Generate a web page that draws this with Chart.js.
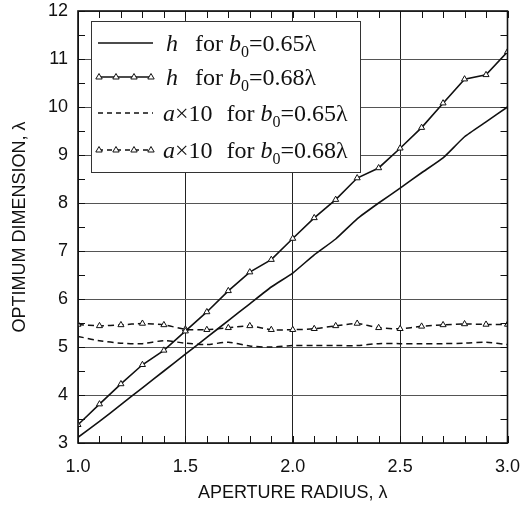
<!DOCTYPE html>
<html>
<head>
<meta charset="utf-8">
<script src="https://cdn.jsdelivr.net/npm/chart.js@4/dist/chart.umd.min.js"></script>
<style>
    html, body { margin: 0; padding: 0; background: #fff; }
    #wrap { width: 522px; height: 508px; }
</style>
</head>
<body>
<div id="wrap"><canvas id="dimChart" width="522" height="508"></canvas></div>
<script>
// aperture radius (lambda)
const radius = [1.0, 1.1, 1.2, 1.3, 1.4, 1.5, 1.6, 1.7, 1.8, 1.9, 2.0,
    2.1, 2.2, 2.3, 2.4, 2.5, 2.6, 2.7, 2.8, 2.9, 3.0];

// h for b0 = 0.65 lambda
const hB065 = [3.12, 3.45, 3.8, 4.15, 4.5, 4.85, 5.2, 5.55, 5.9, 6.25, 6.54,
    6.92, 7.25, 7.67, 8.0, 8.31, 8.63, 8.94, 9.38, 9.69, 10.0];

// h for b0 = 0.68 lambda
const hB068 = [3.38, 3.81, 4.23, 4.63, 4.93, 5.33, 5.73, 6.17, 6.56, 6.82, 7.26,
    7.69, 8.07, 8.52, 8.73, 9.14, 9.57, 10.08, 10.58, 10.67, 11.15];

// a x 10 for b0 = 0.65 lambda
const aB065 = [5.22, 5.13, 5.08, 5.07, 5.13, 5.08, 5.05, 5.1, 5.02, 5.0, 5.03,
    5.03, 5.03, 5.03, 5.07, 5.07, 5.07, 5.07, 5.08, 5.1, 5.05];

// a x 10 for b0 = 0.68 lambda
const aB068 = [5.47, 5.44, 5.46, 5.49, 5.46, 5.37, 5.36, 5.4, 5.44, 5.36, 5.36,
    5.38, 5.44, 5.49, 5.4, 5.38, 5.43, 5.46, 5.48, 5.47, 5.47];

const legendRows = [
    { sym: "h", mult: "", b0: "0.65λ", dash: [], marker: false },
    { sym: "h", mult: "", b0: "0.68λ", dash: [], marker: true },
    { sym: "a", mult: "×10", b0: "0.65λ", dash: [5, 4], marker: false },
    { sym: "a", mult: "×10", b0: "0.68λ", dash: [5, 4], marker: true }
];

function pairs(values) {
    return radius.map((x, i) => ({ x: x, y: values[i] }));
}

// frame, inward minor ticks and the boxed legend
const paperPlugin = {
    id: "paper",
    afterDraw(chart) {
        const ctx = chart.ctx;
        const area = chart.chartArea;
        const xs = chart.scales.x;
        const ys = chart.scales.y;
        ctx.save();
        ctx.strokeStyle = "#111";
        ctx.lineWidth = 1;
        for (let i = 10; i <= 30; i++) {
            const px = Math.round(xs.getPixelForValue(i / 10)) + 0.5;
            ctx.beginPath();
            ctx.moveTo(px, area.bottom);
            ctx.lineTo(px, area.bottom - 7);
            ctx.moveTo(px, area.top);
            ctx.lineTo(px, area.top + 7);
            ctx.stroke();
        }
        for (let j = 6; j <= 24; j++) {
            const py = Math.round(ys.getPixelForValue(j / 2)) + 0.5;
            ctx.beginPath();
            ctx.moveTo(area.left, py);
            ctx.lineTo(area.left + 7, py);
            ctx.moveTo(area.right, py);
            ctx.lineTo(area.right - 7, py);
            ctx.stroke();
        }
        ctx.lineWidth = 1.6;
        ctx.strokeRect(area.left, area.top, area.right - area.left, area.bottom - area.top);

        // legend box
        const bx = 91, by = 21, bw = 269, bh = 151;
        ctx.fillStyle = "#fff";
        ctx.fillRect(bx, by, bw, bh);
        ctx.lineWidth = 1;
        ctx.strokeStyle = "#333";
        ctx.strokeRect(bx + 0.5, by + 0.5, bw, bh);

        const rowY = [43, 77, 113, 150];
        legendRows.forEach((row, k) => {
            const y = rowY[k];
            ctx.strokeStyle = "#111";
            ctx.lineWidth = 1.3;
            ctx.setLineDash(row.dash);
            ctx.beginPath();
            ctx.moveTo(98, y);
            ctx.lineTo(153, y);
            ctx.stroke();
            ctx.setLineDash([]);
            if (row.marker) {
                [99, 116, 134, 151].forEach(mx => {
                    ctx.beginPath();
                    ctx.moveTo(mx, y - 3.5);
                    ctx.lineTo(mx + 3.2, y + 2);
                    ctx.lineTo(mx - 3.2, y + 2);
                    ctx.closePath();
                    ctx.fillStyle = "#fff";
                    ctx.fill();
                    ctx.lineWidth = 1;
                    ctx.stroke();
                });
            }
            // text with italics and subscript
            ctx.fillStyle = "#111";
            ctx.textBaseline = "alphabetic";
            const isH = row.sym === "h";
            let tx = isH ? 166 : 163;
            const base = y + 8;
            const parts = [
                { t: row.sym, f: "italic 24px 'Liberation Serif'", dy: 0, gap: 0 },
                { t: row.mult, f: "24px 'Liberation Serif'", dy: 0, gap: 0 },
                { t: "for", f: "24px 'Liberation Serif'", dy: 0, gap: isH ? 17 : 14 },
                { t: "b", f: "italic 24px 'Liberation Serif'", dy: 0, gap: 6 },
                { t: "0", f: "16px 'Liberation Serif'", dy: 6, gap: 0 },
                { t: "=" + row.b0, f: "24px 'Liberation Serif'", dy: 0, gap: 0 }
            ];
            parts.forEach(p => {
                tx += p.gap;
                ctx.font = p.f;
                ctx.fillText(p.t, tx, base + p.dy);
                tx += ctx.measureText(p.t).width;
            });
        });
        ctx.restore();
    }
};

window.onload = function () {

    const ctx = document.getElementById("dimChart");

    new Chart(ctx, {

        type: "line",

        data: {
            datasets: [
                {
                    label: "h for b0=0.65λ",
                    data: pairs(hB065),
                    borderColor: "#111",
                    borderWidth: 1.6,
                    pointRadius: 0,
                    tension: 0.15
                },
                {
                    label: "h for b0=0.68λ",
                    data: pairs(hB068),
                    borderColor: "#111",
                    borderWidth: 1.6,
                    pointStyle: "triangle",
                    pointRadius: 3.5,
                    pointBorderWidth: 1,
                    pointBackgroundColor: "#fff",
                    pointBorderColor: "#111",
                    tension: 0
                },
                {
                    label: "a×10 for b0=0.65λ",
                    data: pairs(aB065),
                    borderColor: "#111",
                    borderWidth: 1.5,
                    borderDash: [6, 4],
                    pointRadius: 0,
                    tension: 0.3
                },
                {
                    label: "a×10 for b0=0.68λ",
                    data: pairs(aB068),
                    borderColor: "#111",
                    borderWidth: 1.5,
                    borderDash: [6, 4],
                    pointStyle: "triangle",
                    pointRadius: 3.5,
                    pointBorderWidth: 1,
                    pointBackgroundColor: "#fff",
                    pointBorderColor: "#111",
                    tension: 0.2
                }
            ]
        },

        options: {
            responsive: false,
            animation: false,
            layout: {
                padding: { top: 11, right: 14.5, bottom: 0, left: 0 }
            },
            plugins: {
                legend: { display: false },
                tooltip: { enabled: false }
            },
            scales: {
                x: {
                    type: "linear",
                    min: 1,
                    max: 3,
                    afterFit(scale) {
                        scale.height = 65;
                        scale.paddingLeft = 0;
                        scale.paddingRight = 0;
                    },
                    ticks: {
                        stepSize: 0.5,
                        padding: 13,
                        color: "#111",
                        font: { family: "'Liberation Sans'", size: 18 },
                        callback: v => v.toFixed(1)
                    },
                    grid: {
                        color: "#222",
                        lineWidth: 1,
                        drawTicks: false
                    },
                    border: { display: false },
                    title: {
                        display: true,
                        text: "APERTURE RADIUS, λ",
                        color: "#111",
                        font: { family: "'Liberation Sans'", size: 18 },
                        padding: { top: 0, bottom: 4 }
                    }
                },
                y: {
                    min: 3,
                    max: 12,
                    afterFit(scale) {
                        scale.width = 78;
                        scale.paddingTop = 0;
                        scale.paddingBottom = 0;
                    },
                    ticks: {
                        stepSize: 1,
                        padding: 10,
                        color: "#111",
                        font: { family: "'Liberation Sans'", size: 18 }
                    },
                    grid: {
                        color: "#555",
                        lineWidth: 1,
                        drawTicks: false
                    },
                    border: { display: false },
                    title: {
                        display: true,
                        text: "OPTIMUM DIMENSION, λ",
                        color: "#111",
                        font: { family: "'Liberation Sans'", size: 18 },
                        padding: { top: 9, bottom: 0 }
                    }
                }
            }
        },

        plugins: [paperPlugin]
    });
};
</script>
</body>
</html>
